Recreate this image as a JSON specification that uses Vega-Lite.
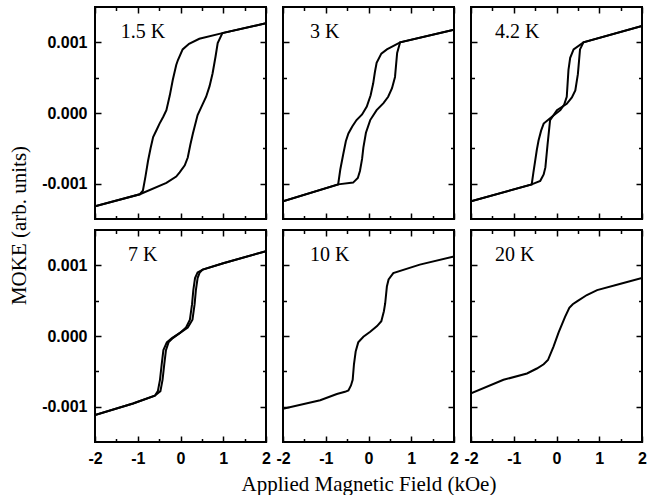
{
  "$schema": "https://vega.github.io/schema/vega-lite/v6.json",
  "background": "white",
  "padding": {"left": 7, "top": 5, "right": 0, "bottom": 2},
  "config": {
    "view": {"stroke": "black", "strokeWidth": 2},
    "axis": {"grid": false, "domain": false, "tickColor": "black", "tickWidth": 1.5, "labelFont": "Liberation Sans", "labelFontSize": 16, "labelFontWeight": "bold", "labelColor": "black", "titleFont": "Liberation Serif", "titleFontSize": 21, "titleFontWeight": "normal", "titleColor": "black"}
  },
  "data": {"values": [
    {"p":"1.5 K","b":"d","x":-2,"y":-0.00132},{"p":"1.5 K","b":"d","x":-0.95,"y":-0.00115},{"p":"1.5 K","b":"d","x":-0.88,"y":-0.0011},{"p":"1.5 K","b":"d","x":-0.82,"y":-0.0009},{"p":"1.5 K","b":"d","x":-0.76,"y":-0.00068},{"p":"1.5 K","b":"d","x":-0.7,"y":-0.0005},{"p":"1.5 K","b":"d","x":-0.64,"y":-0.00034},{"p":"1.5 K","b":"d","x":-0.56,"y":-0.00024},{"p":"1.5 K","b":"d","x":-0.49,"y":-0.00015},{"p":"1.5 K","b":"d","x":-0.4,"y":-0.00005},{"p":"1.5 K","b":"d","x":-0.33,"y":0.00004},{"p":"1.5 K","b":"d","x":-0.25,"y":0.00025},{"p":"1.5 K","b":"d","x":-0.18,"y":0.00047},{"p":"1.5 K","b":"d","x":-0.1,"y":0.00068},{"p":"1.5 K","b":"d","x":-0.06,"y":0.00075},{"p":"1.5 K","b":"d","x":0.05,"y":0.0009},{"p":"1.5 K","b":"d","x":0.2,"y":0.00098},{"p":"1.5 K","b":"d","x":0.44,"y":0.00105},{"p":"1.5 K","b":"d","x":0.98,"y":0.00113},{"p":"1.5 K","b":"d","x":2,"y":0.00127},
    {"p":"1.5 K","b":"u","x":-2,"y":-0.00132},{"p":"1.5 K","b":"u","x":-0.95,"y":-0.00115},{"p":"1.5 K","b":"u","x":-0.33,"y":-0.00099},{"p":"1.5 K","b":"u","x":-0.1,"y":-0.0009},{"p":"1.5 K","b":"u","x":-0.02,"y":-0.00084},{"p":"1.5 K","b":"u","x":0.1,"y":-0.00074},{"p":"1.5 K","b":"u","x":0.17,"y":-0.00063},{"p":"1.5 K","b":"u","x":0.23,"y":-0.00045},{"p":"1.5 K","b":"u","x":0.29,"y":-0.00029},{"p":"1.5 K","b":"u","x":0.4,"y":-0.00003},{"p":"1.5 K","b":"u","x":0.5,"y":0.0001},{"p":"1.5 K","b":"u","x":0.6,"y":0.00023},{"p":"1.5 K","b":"u","x":0.68,"y":0.00038},{"p":"1.5 K","b":"u","x":0.75,"y":0.00056},{"p":"1.5 K","b":"u","x":0.82,"y":0.0008},{"p":"1.5 K","b":"u","x":0.87,"y":0.00099},{"p":"1.5 K","b":"u","x":0.98,"y":0.00113},{"p":"1.5 K","b":"u","x":2,"y":0.00127},

    {"p":"3 K","b":"d","x":-2,"y":-0.00125},{"p":"3 K","b":"d","x":-0.71,"y":-0.00101},{"p":"3 K","b":"d","x":-0.66,"y":-0.0008},{"p":"3 K","b":"d","x":-0.59,"y":-0.00058},{"p":"3 K","b":"d","x":-0.53,"y":-0.0004},{"p":"3 K","b":"d","x":-0.47,"y":-0.00029},{"p":"3 K","b":"d","x":-0.38,"y":-0.00019},{"p":"3 K","b":"d","x":-0.28,"y":-0.0001},{"p":"3 K","b":"d","x":-0.15,"y":-0.00002},{"p":"3 K","b":"d","x":-0.04,"y":0.00009},{"p":"3 K","b":"d","x":0.05,"y":0.00025},{"p":"3 K","b":"d","x":0.11,"y":0.00042},{"p":"3 K","b":"d","x":0.15,"y":0.00058},{"p":"3 K","b":"d","x":0.19,"y":0.00071},{"p":"3 K","b":"d","x":0.3,"y":0.00084},{"p":"3 K","b":"d","x":0.43,"y":0.0009},{"p":"3 K","b":"d","x":0.74,"y":0.001},{"p":"3 K","b":"d","x":2,"y":0.00118},
    {"p":"3 K","b":"u","x":-2,"y":-0.00125},{"p":"3 K","b":"u","x":-0.71,"y":-0.00101},{"p":"3 K","b":"u","x":-0.36,"y":-0.000985},{"p":"3 K","b":"u","x":-0.25,"y":-0.00092},{"p":"3 K","b":"u","x":-0.2,"y":-0.00082},{"p":"3 K","b":"u","x":-0.15,"y":-0.00065},{"p":"3 K","b":"u","x":-0.12,"y":-0.00049},{"p":"3 K","b":"u","x":-0.06,"y":-0.00028},{"p":"3 K","b":"u","x":0.04,"y":-0.0001},{"p":"3 K","b":"u","x":0.19,"y":0.00004},{"p":"3 K","b":"u","x":0.35,"y":0.00014},{"p":"3 K","b":"u","x":0.46,"y":0.00023},{"p":"3 K","b":"u","x":0.55,"y":0.00035},{"p":"3 K","b":"u","x":0.62,"y":0.00051},{"p":"3 K","b":"u","x":0.67,"y":0.00085},{"p":"3 K","b":"u","x":0.74,"y":0.001},{"p":"3 K","b":"u","x":2,"y":0.00118},

    {"p":"4.2 K","b":"d","x":-2,"y":-0.00125},{"p":"4.2 K","b":"d","x":-0.58,"y":-0.00101},{"p":"4.2 K","b":"d","x":-0.54,"y":-0.00084},{"p":"4.2 K","b":"d","x":-0.5,"y":-0.00068},{"p":"4.2 K","b":"d","x":-0.46,"y":-0.00052},{"p":"4.2 K","b":"d","x":-0.42,"y":-0.00039},{"p":"4.2 K","b":"d","x":-0.36,"y":-0.00025},{"p":"4.2 K","b":"d","x":-0.3,"y":-0.00015},{"p":"4.2 K","b":"d","x":-0.1,"y":-0.00005},{"p":"4.2 K","b":"d","x":0.09,"y":0.00004},{"p":"4.2 K","b":"d","x":0.18,"y":0.00012},{"p":"4.2 K","b":"d","x":0.24,"y":0.00023},{"p":"4.2 K","b":"d","x":0.26,"y":0.00042},{"p":"4.2 K","b":"d","x":0.28,"y":0.00061},{"p":"4.2 K","b":"d","x":0.32,"y":0.00078},{"p":"4.2 K","b":"d","x":0.4,"y":0.0009},{"p":"4.2 K","b":"d","x":0.63,"y":0.001},{"p":"4.2 K","b":"d","x":2,"y":0.00123},
    {"p":"4.2 K","b":"u","x":-2,"y":-0.00125},{"p":"4.2 K","b":"u","x":-0.58,"y":-0.00101},{"p":"4.2 K","b":"u","x":-0.38,"y":-0.00096},{"p":"4.2 K","b":"u","x":-0.3,"y":-0.00087},{"p":"4.2 K","b":"u","x":-0.26,"y":-0.00077},{"p":"4.2 K","b":"u","x":-0.21,"y":-0.00045},{"p":"4.2 K","b":"u","x":-0.15,"y":-0.0001},{"p":"4.2 K","b":"u","x":0.01,"y":0.00004},{"p":"4.2 K","b":"u","x":0.24,"y":0.00013},{"p":"4.2 K","b":"u","x":0.36,"y":0.00022},{"p":"4.2 K","b":"u","x":0.44,"y":0.00032},{"p":"4.2 K","b":"u","x":0.5,"y":0.00055},{"p":"4.2 K","b":"u","x":0.55,"y":0.0009},{"p":"4.2 K","b":"u","x":0.63,"y":0.001},{"p":"4.2 K","b":"u","x":2,"y":0.00123},

    {"p":"7 K","b":"d","x":-2,"y":-0.00112},{"p":"7 K","b":"d","x":-1.11,"y":-0.000955},{"p":"7 K","b":"d","x":-0.6,"y":-0.000845},{"p":"7 K","b":"d","x":-0.53,"y":-0.00078},{"p":"7 K","b":"d","x":-0.48,"y":-0.00062},{"p":"7 K","b":"d","x":-0.44,"y":-0.0004},{"p":"7 K","b":"d","x":-0.4,"y":-0.0002},{"p":"7 K","b":"d","x":-0.32,"y":-0.00009},{"p":"7 K","b":"d","x":-0.2,"y":-0.00003},{"p":"7 K","b":"d","x":-0.02,"y":0.00004},{"p":"7 K","b":"d","x":0.13,"y":0.00012},{"p":"7 K","b":"d","x":0.22,"y":0.00023},{"p":"7 K","b":"d","x":0.27,"y":0.00045},{"p":"7 K","b":"d","x":0.3,"y":0.00065},{"p":"7 K","b":"d","x":0.34,"y":0.00082},{"p":"7 K","b":"d","x":0.4,"y":0.0009},{"p":"7 K","b":"d","x":0.52,"y":0.00094},{"p":"7 K","b":"d","x":1,"y":0.00103},{"p":"7 K","b":"d","x":2,"y":0.0012},
    {"p":"7 K","b":"u","x":-2,"y":-0.00112},{"p":"7 K","b":"u","x":-1.11,"y":-0.000955},{"p":"7 K","b":"u","x":-0.6,"y":-0.000845},{"p":"7 K","b":"u","x":-0.47,"y":-0.00078},{"p":"7 K","b":"u","x":-0.42,"y":-0.00062},{"p":"7 K","b":"u","x":-0.38,"y":-0.0004},{"p":"7 K","b":"u","x":-0.34,"y":-0.0002},{"p":"7 K","b":"u","x":-0.28,"y":-0.00009},{"p":"7 K","b":"u","x":-0.18,"y":-0.00003},{"p":"7 K","b":"u","x":-0.02,"y":0.00004},{"p":"7 K","b":"u","x":0.17,"y":0.00012},{"p":"7 K","b":"u","x":0.28,"y":0.00023},{"p":"7 K","b":"u","x":0.33,"y":0.00045},{"p":"7 K","b":"u","x":0.36,"y":0.00065},{"p":"7 K","b":"u","x":0.4,"y":0.00082},{"p":"7 K","b":"u","x":0.45,"y":0.0009},{"p":"7 K","b":"u","x":0.52,"y":0.00094},{"p":"7 K","b":"u","x":1,"y":0.00103},{"p":"7 K","b":"u","x":2,"y":0.0012},

    {"p":"10 K","b":"d","x":-2,"y":-0.00103},{"p":"10 K","b":"d","x":-1.13,"y":-0.00091},{"p":"10 K","b":"d","x":-0.74,"y":-0.00082},{"p":"10 K","b":"d","x":-0.55,"y":-0.00079},{"p":"10 K","b":"d","x":-0.47,"y":-0.00077},{"p":"10 K","b":"d","x":-0.41,"y":-0.0007},{"p":"10 K","b":"d","x":-0.37,"y":-0.00062},{"p":"10 K","b":"d","x":-0.34,"y":-0.0004},{"p":"10 K","b":"d","x":-0.3,"y":-0.00022},{"p":"10 K","b":"d","x":-0.24,"y":-0.00009},{"p":"10 K","b":"d","x":-0.12,"y":-0.00001},{"p":"10 K","b":"d","x":0.04,"y":0.00006},{"p":"10 K","b":"d","x":0.2,"y":0.00014},{"p":"10 K","b":"d","x":0.3,"y":0.00021},{"p":"10 K","b":"d","x":0.36,"y":0.00035},{"p":"10 K","b":"d","x":0.39,"y":0.00046},{"p":"10 K","b":"d","x":0.43,"y":0.0007},{"p":"10 K","b":"d","x":0.47,"y":0.0008},{"p":"10 K","b":"d","x":0.58,"y":0.00089},{"p":"10 K","b":"d","x":1.2,"y":0.00101},{"p":"10 K","b":"d","x":2,"y":0.001125},

    {"p":"20 K","b":"d","x":-2,"y":-0.00081},{"p":"20 K","b":"d","x":-1.24,"y":-0.00062},{"p":"20 K","b":"d","x":-0.69,"y":-0.00053},{"p":"20 K","b":"d","x":-0.46,"y":-0.00046},{"p":"20 K","b":"d","x":-0.3,"y":-0.0004},{"p":"20 K","b":"d","x":-0.2,"y":-0.00034},{"p":"20 K","b":"d","x":-0.07,"y":-0.00015},{"p":"20 K","b":"d","x":0.05,"y":0.00005},{"p":"20 K","b":"d","x":0.2,"y":0.00027},{"p":"20 K","b":"d","x":0.3,"y":0.0004},{"p":"20 K","b":"d","x":0.38,"y":0.00045},{"p":"20 K","b":"d","x":0.48,"y":0.00049},{"p":"20 K","b":"d","x":0.71,"y":0.00058},{"p":"20 K","b":"d","x":0.95,"y":0.00065},{"p":"20 K","b":"d","x":1.5,"y":0.00074},{"p":"20 K","b":"d","x":2,"y":0.00082}
  ]},
  "bounds": "flush",
  "columns": 3,
  "spacing": {"row": 11, "column": 17},
  "concat": [
      {"width": 171, "height": 212, "resolve": {"axis": {"x": "independent", "y": "independent"}}, "layer": [
        {"transform": [{"filter": "datum.p === '1.5 K'"}], "mark": {"type": "line", "color": "black", "strokeWidth": 2, "clip": true},
         "encoding": {
           "x": {"field": "x", "type": "quantitative", "scale": {"domain": [-2, 2], "nice": false}, "axis": {"orient": "bottom", "title": null, "values": [-2,-1.5,-1,-0.5,0,0.5,1,1.5,2], "tickSize": {"condition": {"test": "datum.value % 1 === 0", "value": -6}, "value": -3.5}, "labels": false}},
           "y": {"field": "y", "type": "quantitative", "scale": {"domain": [-0.0015, 0.0015], "nice": false, "zero": false}, "axis": {"orient": "left", "title": null, "values": [-0.001,-0.0005,0,0.0005,0.001], "tickSize": {"condition": {"test": "round(datum.value*2000) % 2 === 0", "value": -6}, "value": -3.5}, "labelPadding": 14, "labelExpr": "round(datum.value*2000) % 2 === 0 ? replace(format(datum.value, '.3f'), '−', '-') : ''"}},
           "detail": {"field": "b"}}},
        {"data": {"values": [{"label": "1.5 K"}]}, "mark": {"type": "text", "align": "left", "baseline": "middle", "font": "Liberation Serif", "fontSize": 20, "color": "black"},
         "encoding": {
           "x": {"datum": -1.4, "type": "quantitative", "scale": {"domain": [-2, 2], "nice": false}, "axis": {"orient": "top", "title": null, "values": [-2,-1.5,-1,-0.5,0,0.5,1,1.5,2], "tickSize": {"condition": {"test": "datum.value % 1 === 0", "value": -6}, "value": -3.5}, "labels": false}},
           "y": {"datum": 0.00114, "type": "quantitative", "scale": {"domain": [-0.0015, 0.0015], "nice": false, "zero": false}, "axis": {"orient": "right", "title": null, "values": [-0.001,-0.0005,0,0.0005,0.001], "tickSize": {"condition": {"test": "round(datum.value*2000) % 2 === 0", "value": -6}, "value": -3.5}, "labels": false}},
           "text": {"field": "label"}}}
      ]},
      {"width": 171, "height": 212, "resolve": {"axis": {"x": "independent", "y": "independent"}}, "layer": [
        {"transform": [{"filter": "datum.p === '3 K'"}], "mark": {"type": "line", "color": "black", "strokeWidth": 2, "clip": true},
         "encoding": {
           "x": {"field": "x", "type": "quantitative", "scale": {"domain": [-2, 2], "nice": false}, "axis": {"orient": "bottom", "title": null, "values": [-2,-1.5,-1,-0.5,0,0.5,1,1.5,2], "tickSize": {"condition": {"test": "datum.value % 1 === 0", "value": -6}, "value": -3.5}, "labels": false}},
           "y": {"field": "y", "type": "quantitative", "scale": {"domain": [-0.0015, 0.0015], "nice": false, "zero": false}, "axis": {"orient": "left", "title": null, "values": [-0.001,-0.0005,0,0.0005,0.001], "tickSize": {"condition": {"test": "round(datum.value*2000) % 2 === 0", "value": -6}, "value": -3.5}, "labels": false}},
           "detail": {"field": "b"}}},
        {"data": {"values": [{"label": "3 K"}]}, "mark": {"type": "text", "align": "left", "baseline": "middle", "font": "Liberation Serif", "fontSize": 20, "color": "black"},
         "encoding": {
           "x": {"datum": -1.37, "type": "quantitative", "scale": {"domain": [-2, 2], "nice": false}, "axis": {"orient": "top", "title": null, "values": [-2,-1.5,-1,-0.5,0,0.5,1,1.5,2], "tickSize": {"condition": {"test": "datum.value % 1 === 0", "value": -6}, "value": -3.5}, "labels": false}},
           "y": {"datum": 0.00114, "type": "quantitative", "scale": {"domain": [-0.0015, 0.0015], "nice": false, "zero": false}, "axis": {"orient": "right", "title": null, "values": [-0.001,-0.0005,0,0.0005,0.001], "tickSize": {"condition": {"test": "round(datum.value*2000) % 2 === 0", "value": -6}, "value": -3.5}, "labels": false}},
           "text": {"field": "label"}}}
      ]},
      {"width": 171, "height": 212, "resolve": {"axis": {"x": "independent", "y": "independent"}}, "layer": [
        {"transform": [{"filter": "datum.p === '4.2 K'"}], "mark": {"type": "line", "color": "black", "strokeWidth": 2, "clip": true},
         "encoding": {
           "x": {"field": "x", "type": "quantitative", "scale": {"domain": [-2, 2], "nice": false}, "axis": {"orient": "bottom", "title": null, "values": [-2,-1.5,-1,-0.5,0,0.5,1,1.5,2], "tickSize": {"condition": {"test": "datum.value % 1 === 0", "value": -6}, "value": -3.5}, "labels": false}},
           "y": {"field": "y", "type": "quantitative", "scale": {"domain": [-0.0015, 0.0015], "nice": false, "zero": false}, "axis": {"orient": "left", "title": null, "values": [-0.001,-0.0005,0,0.0005,0.001], "tickSize": {"condition": {"test": "round(datum.value*2000) % 2 === 0", "value": -6}, "value": -3.5}, "labels": false}},
           "detail": {"field": "b"}}},
        {"data": {"values": [{"label": "4.2 K"}]}, "mark": {"type": "text", "align": "left", "baseline": "middle", "font": "Liberation Serif", "fontSize": 20, "color": "black"},
         "encoding": {
           "x": {"datum": -1.44, "type": "quantitative", "scale": {"domain": [-2, 2], "nice": false}, "axis": {"orient": "top", "title": null, "values": [-2,-1.5,-1,-0.5,0,0.5,1,1.5,2], "tickSize": {"condition": {"test": "datum.value % 1 === 0", "value": -6}, "value": -3.5}, "labels": false}},
           "y": {"datum": 0.00114, "type": "quantitative", "scale": {"domain": [-0.0015, 0.0015], "nice": false, "zero": false}, "axis": {"orient": "right", "title": null, "values": [-0.001,-0.0005,0,0.0005,0.001], "tickSize": {"condition": {"test": "round(datum.value*2000) % 2 === 0", "value": -6}, "value": -3.5}, "labels": false}},
           "text": {"field": "label"}}}
      ]},
      {"width": 171, "height": 212, "resolve": {"axis": {"x": "independent", "y": "independent"}}, "layer": [
        {"transform": [{"filter": "datum.p === '7 K'"}], "mark": {"type": "line", "color": "black", "strokeWidth": 2, "clip": true},
         "encoding": {
           "x": {"field": "x", "type": "quantitative", "scale": {"domain": [-2, 2], "nice": false}, "axis": {"orient": "bottom", "title": null, "values": [-2,-1.5,-1,-0.5,0,0.5,1,1.5,2], "tickSize": {"condition": {"test": "datum.value % 1 === 0", "value": -6}, "value": -3.5}, "labelPadding": 14, "labelFlush": false, "labelOverlap": false, "labelExpr": "datum.value % 1 === 0 ? '' + datum.value : ''"}},
           "y": {"field": "y", "type": "quantitative", "scale": {"domain": [-0.0015, 0.0015], "nice": false, "zero": false}, "axis": {"orient": "left", "title": "MOKE (arb. units)", "titleY": -5, "titlePadding": 12, "values": [-0.001,-0.0005,0,0.0005,0.001], "tickSize": {"condition": {"test": "round(datum.value*2000) % 2 === 0", "value": -6}, "value": -3.5}, "labelPadding": 14, "labelExpr": "round(datum.value*2000) % 2 === 0 ? replace(format(datum.value, '.3f'), '−', '-') : ''"}},
           "detail": {"field": "b"}}},
        {"data": {"values": [{"label": "7 K"}]}, "mark": {"type": "text", "align": "left", "baseline": "middle", "font": "Liberation Serif", "fontSize": 20, "color": "black"},
         "encoding": {
           "x": {"datum": -1.23, "type": "quantitative", "scale": {"domain": [-2, 2], "nice": false}, "axis": {"orient": "top", "title": null, "values": [-2,-1.5,-1,-0.5,0,0.5,1,1.5,2], "tickSize": {"condition": {"test": "datum.value % 1 === 0", "value": -6}, "value": -3.5}, "labels": false}},
           "y": {"datum": 0.00115, "type": "quantitative", "scale": {"domain": [-0.0015, 0.0015], "nice": false, "zero": false}, "axis": {"orient": "right", "title": null, "values": [-0.001,-0.0005,0,0.0005,0.001], "tickSize": {"condition": {"test": "round(datum.value*2000) % 2 === 0", "value": -6}, "value": -3.5}, "labels": false}},
           "text": {"field": "label"}}}
      ]},
      {"width": 171, "height": 212, "resolve": {"axis": {"x": "independent", "y": "independent"}}, "layer": [
        {"transform": [{"filter": "datum.p === '10 K'"}], "mark": {"type": "line", "color": "black", "strokeWidth": 2, "clip": true},
         "encoding": {
           "x": {"field": "x", "type": "quantitative", "scale": {"domain": [-2, 2], "nice": false}, "axis": {"orient": "bottom", "title": "Applied Magnetic Field (kOe)", "titlePadding": 5, "values": [-2,-1.5,-1,-0.5,0,0.5,1,1.5,2], "tickSize": {"condition": {"test": "datum.value % 1 === 0", "value": -6}, "value": -3.5}, "labelPadding": 14, "labelFlush": false, "labelOverlap": false, "labelExpr": "datum.value % 1 === 0 ? '' + datum.value : ''"}},
           "y": {"field": "y", "type": "quantitative", "scale": {"domain": [-0.0015, 0.0015], "nice": false, "zero": false}, "axis": {"orient": "left", "title": null, "values": [-0.001,-0.0005,0,0.0005,0.001], "tickSize": {"condition": {"test": "round(datum.value*2000) % 2 === 0", "value": -6}, "value": -3.5}, "labels": false}},
           "detail": {"field": "b"}}},
        {"data": {"values": [{"label": "10 K"}]}, "mark": {"type": "text", "align": "left", "baseline": "middle", "font": "Liberation Serif", "fontSize": 20, "color": "black"},
         "encoding": {
           "x": {"datum": -1.37, "type": "quantitative", "scale": {"domain": [-2, 2], "nice": false}, "axis": {"orient": "top", "title": null, "values": [-2,-1.5,-1,-0.5,0,0.5,1,1.5,2], "tickSize": {"condition": {"test": "datum.value % 1 === 0", "value": -6}, "value": -3.5}, "labels": false}},
           "y": {"datum": 0.00115, "type": "quantitative", "scale": {"domain": [-0.0015, 0.0015], "nice": false, "zero": false}, "axis": {"orient": "right", "title": null, "values": [-0.001,-0.0005,0,0.0005,0.001], "tickSize": {"condition": {"test": "round(datum.value*2000) % 2 === 0", "value": -6}, "value": -3.5}, "labels": false}},
           "text": {"field": "label"}}}
      ]},
      {"width": 171, "height": 212, "resolve": {"axis": {"x": "independent", "y": "independent"}}, "layer": [
        {"transform": [{"filter": "datum.p === '20 K'"}], "mark": {"type": "line", "color": "black", "strokeWidth": 2, "clip": true},
         "encoding": {
           "x": {"field": "x", "type": "quantitative", "scale": {"domain": [-2, 2], "nice": false}, "axis": {"orient": "bottom", "title": null, "values": [-2,-1.5,-1,-0.5,0,0.5,1,1.5,2], "tickSize": {"condition": {"test": "datum.value % 1 === 0", "value": -6}, "value": -3.5}, "labelPadding": 14, "labelFlush": false, "labelOverlap": false, "labelExpr": "datum.value % 1 === 0 ? '' + datum.value : ''"}},
           "y": {"field": "y", "type": "quantitative", "scale": {"domain": [-0.0015, 0.0015], "nice": false, "zero": false}, "axis": {"orient": "left", "title": null, "values": [-0.001,-0.0005,0,0.0005,0.001], "tickSize": {"condition": {"test": "round(datum.value*2000) % 2 === 0", "value": -6}, "value": -3.5}, "labels": false}},
           "detail": {"field": "b"}}},
        {"data": {"values": [{"label": "20 K"}]}, "mark": {"type": "text", "align": "left", "baseline": "middle", "font": "Liberation Serif", "fontSize": 20, "color": "black"},
         "encoding": {
           "x": {"datum": -1.44, "type": "quantitative", "scale": {"domain": [-2, 2], "nice": false}, "axis": {"orient": "top", "title": null, "values": [-2,-1.5,-1,-0.5,0,0.5,1,1.5,2], "tickSize": {"condition": {"test": "datum.value % 1 === 0", "value": -6}, "value": -3.5}, "labels": false}},
           "y": {"datum": 0.00115, "type": "quantitative", "scale": {"domain": [-0.0015, 0.0015], "nice": false, "zero": false}, "axis": {"orient": "right", "title": null, "values": [-0.001,-0.0005,0,0.0005,0.001], "tickSize": {"condition": {"test": "round(datum.value*2000) % 2 === 0", "value": -6}, "value": -3.5}, "labels": false}},
           "text": {"field": "label"}}}
      ]}
  ]
}
